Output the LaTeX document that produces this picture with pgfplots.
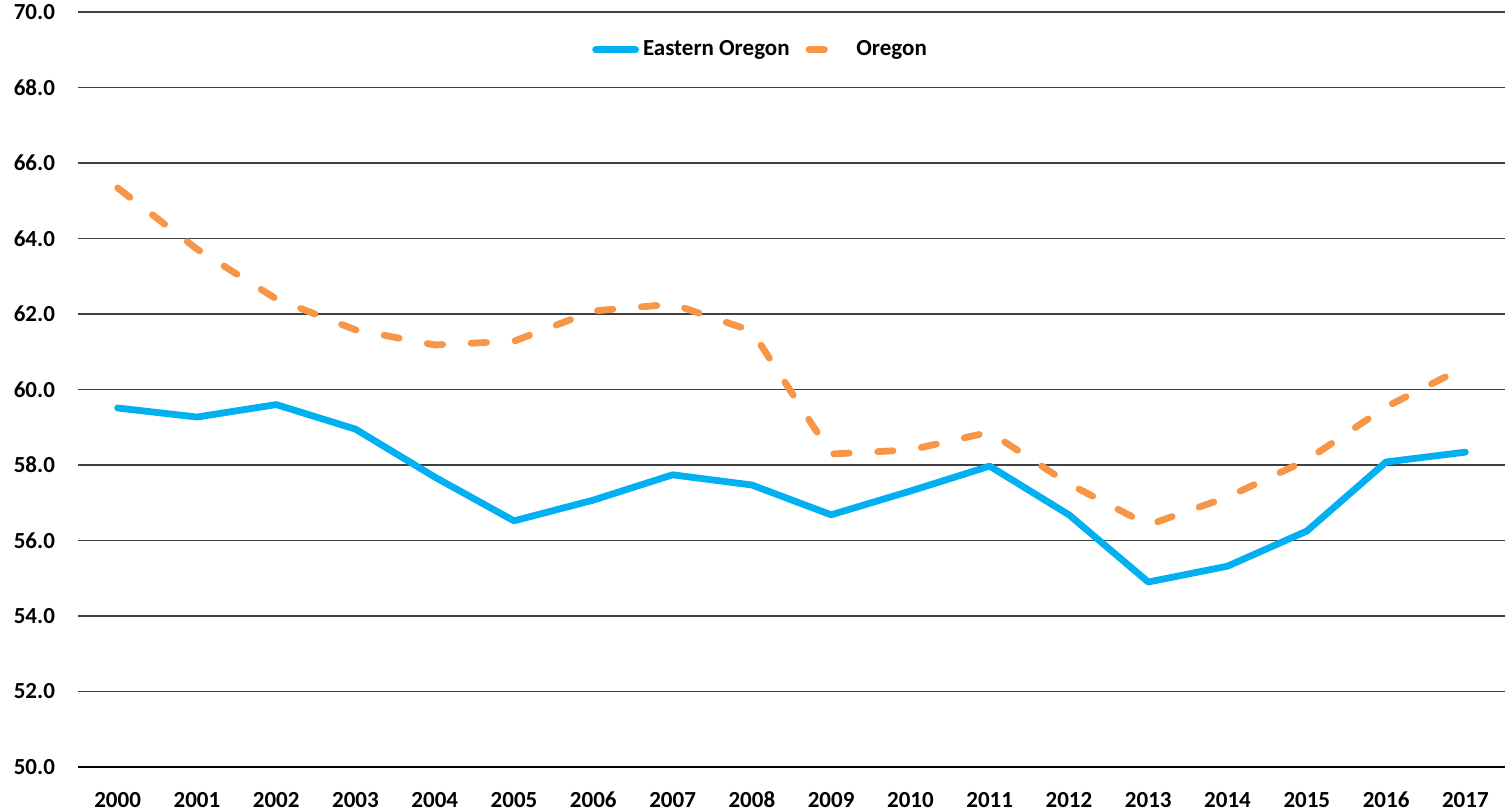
\documentclass[border=0pt]{standalone}
\usepackage{pgfplots}
\pgfplotsset{compat=1.18}
\usepackage{fontspec}
\setmainfont{Carlito}
\definecolor{eo}{HTML}{00B0F0}
\definecolor{or}{HTML}{F79646}
\definecolor{gridc}{HTML}{404040}
\begin{document}
\begin{tikzpicture}
\begin{axis}[
  scale only axis,
  width=713.5pt, height=377.5pt,
  xmin=-0.5, xmax=17.5,
  ymin=50, ymax=70,
  ytick={50,52,...,70},
  xtick={0,...,17},
  xticklabels={2000,2001,2002,2003,2004,2005,2006,2007,2008,2009,2010,2011,2012,2013,2014,2015,2016,2017},
  yticklabel={\pgfmathprintnumber[fixed,fixed zerofill,precision=1]{\tick}},
  /pgf/number format/assume math mode=true,
  tick label style={font=\bfseries\fontsize{11.5}{13}\selectfont},
  ymajorgrids,
  grid style={gridc, line width=0.8pt},
  axis x line*=bottom,
  axis y line*=left,
  y axis line style={draw=none},
  x axis line style={black, line width=1.2pt, -},
  major tick length=0pt,
  xticklabel style={anchor=center, yshift=-16.5pt},
  yticklabel style={xshift=-8pt},
  legend style={at={(0.479,0.95)}, anchor=center, draw=none, fill=none,
    font=\bfseries\fontsize{11.5}{13}\selectfont, /tikz/every even column/.append style={column sep=6pt}},
  legend columns=2,
  clip=false,
]
\addplot[eo, line width=3.4pt, line join=round, line cap=round,
  legend image code/.code={\draw[eo, line width=3.4pt, line cap=round] (0pt,0pt) -- (20pt,0pt);}] coordinates {
(0,59.51) (1,59.27) (2,59.6) (3,58.95) (4,57.68) (5,56.52) (6,57.07) (7,57.74) (8,57.47) (9,56.68) (10,57.31) (11,57.97) (12,56.68) (13,54.9) (14,55.32) (15,56.25) (16,58.08) (17,58.34)};
\addlegendentry{Eastern Oregon}
\addplot[or, line width=3.4pt, line cap=round, line join=round, dash pattern=on 7.7pt off 14.3pt,
  legend image code/.code={\draw[or, line width=3.4pt, line cap=round] (0pt,0pt) -- (9pt,0pt); \path (20pt,0pt);}] coordinates {
(0,65.34) (1,63.72) (2,62.4) (3,61.58) (4,61.18) (5,61.28) (6,62.08) (7,62.26) (8,61.55) (9,58.29) (10,58.4) (11,58.87) (12,57.5) (13,56.41) (14,57.15) (15,58.13) (16,59.54) (17,60.6)};
\addlegendentry{Oregon}
\end{axis}
\pgfresetboundingbox
\path ([xshift=-39pt,yshift=-22pt]current axis.south west) rectangle ([xshift=1pt,yshift=6pt]current axis.north east);
\end{tikzpicture}
\end{document}
